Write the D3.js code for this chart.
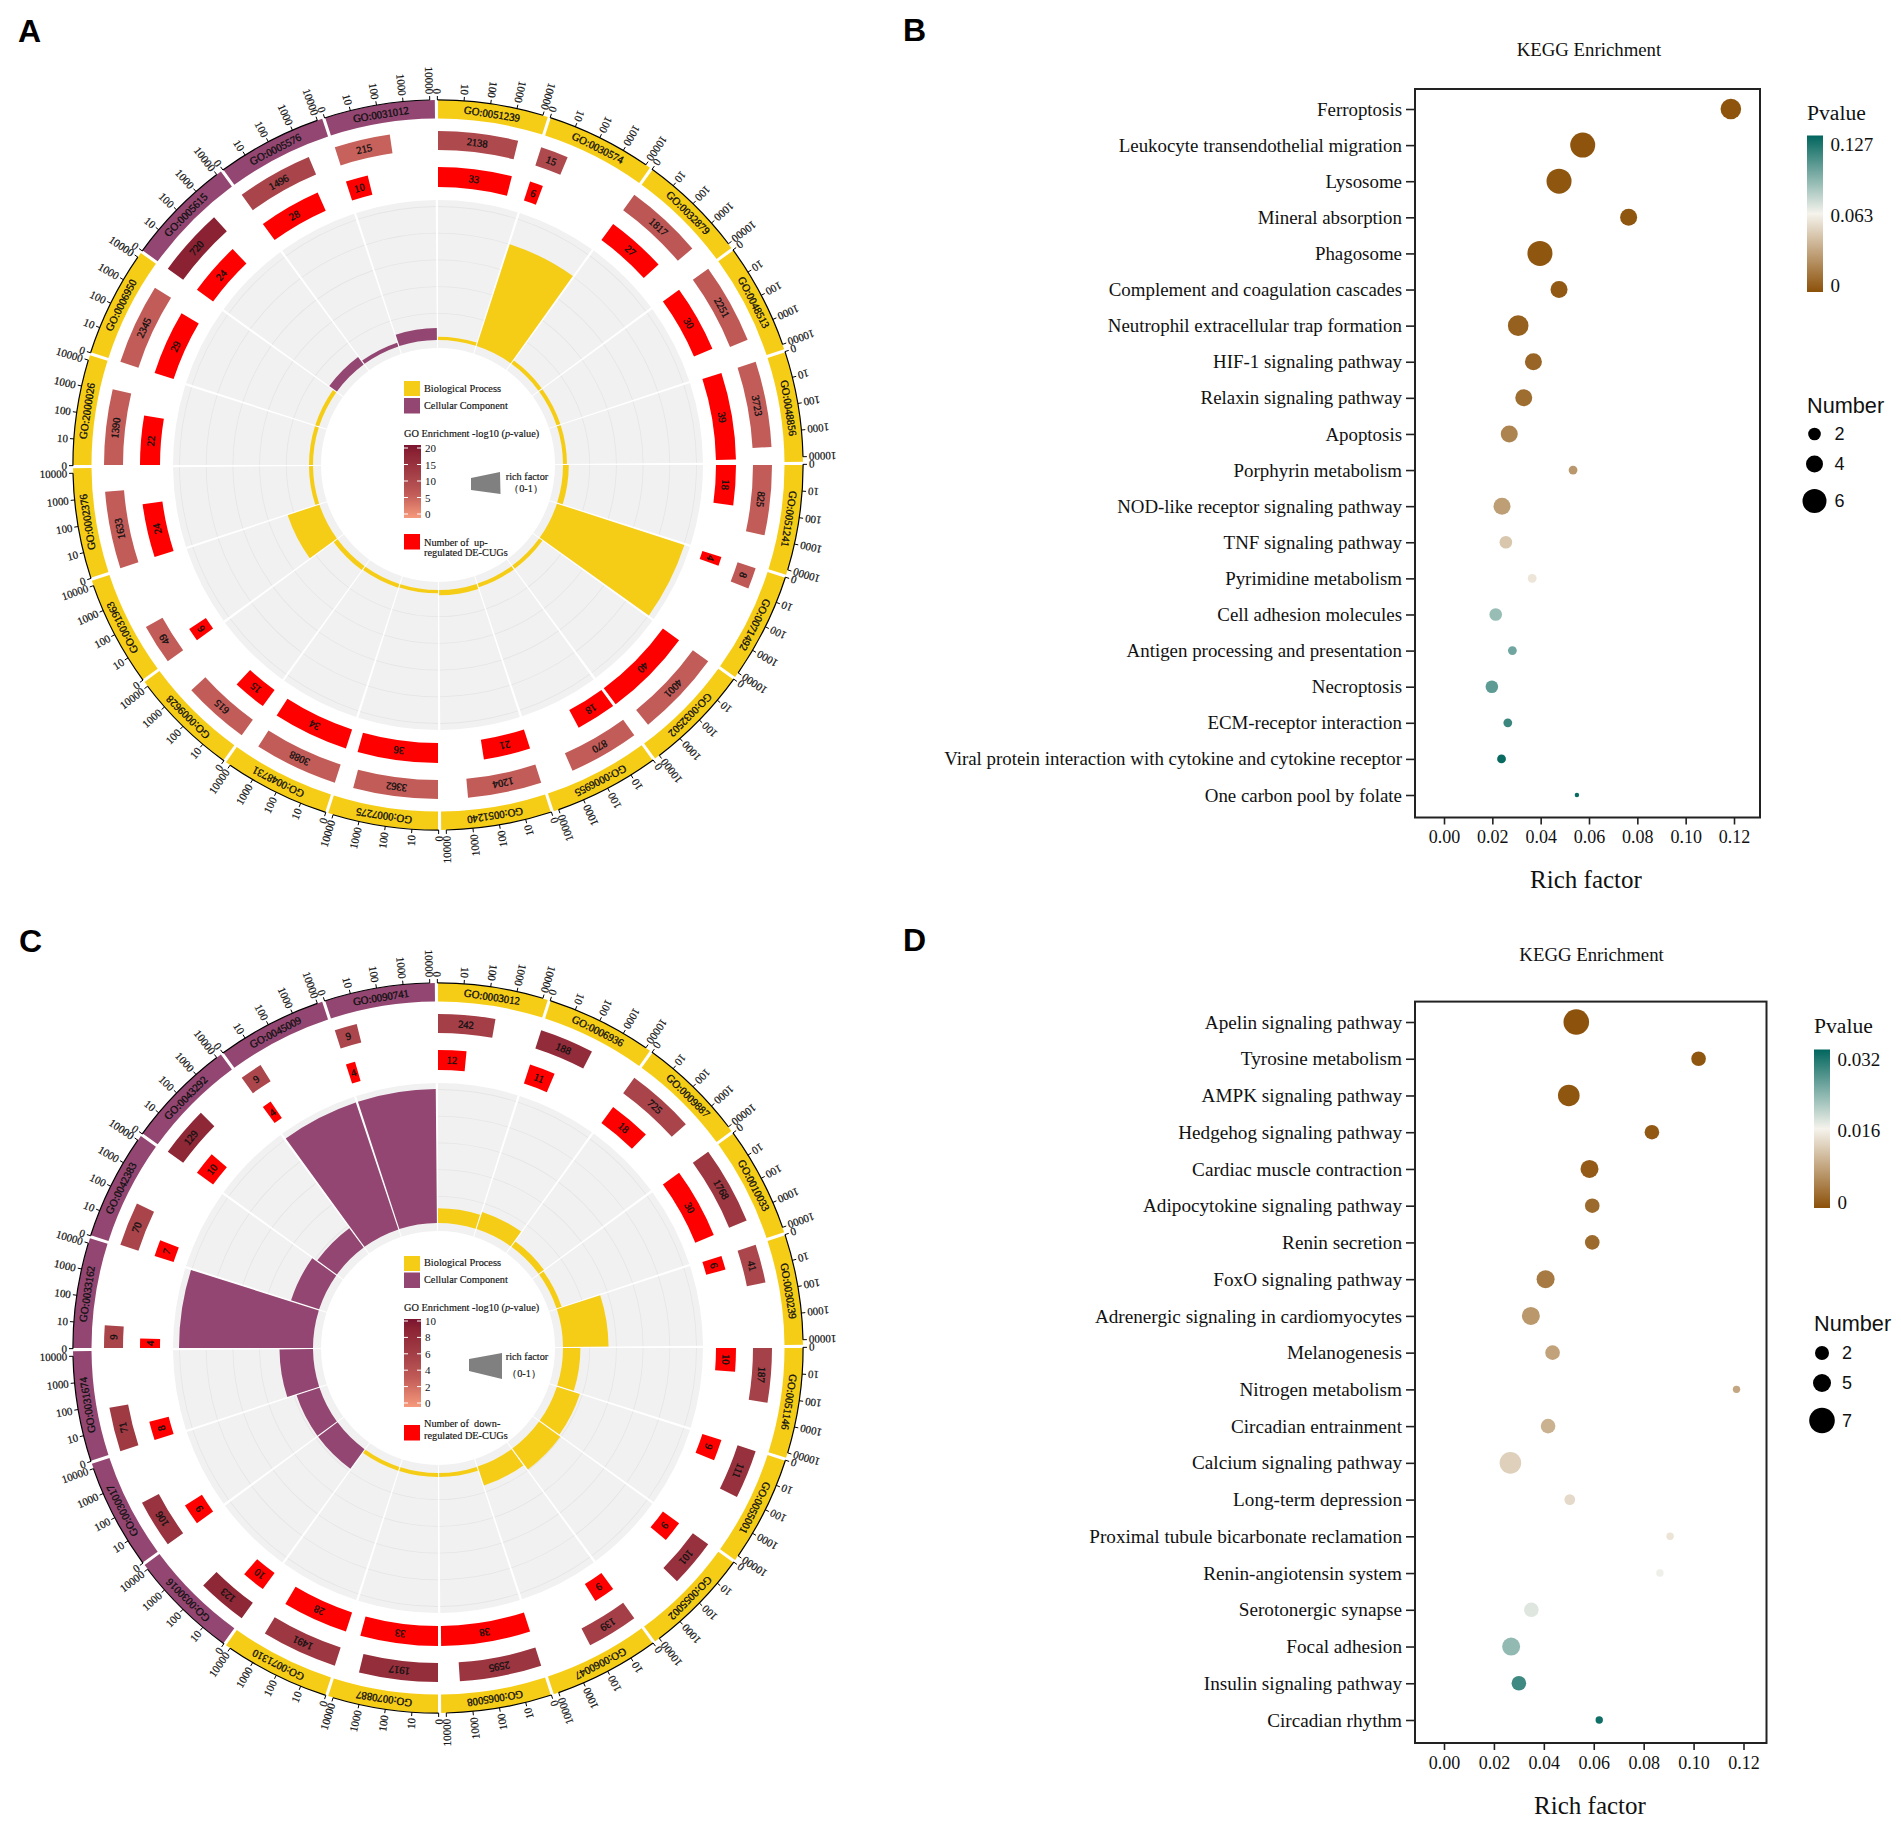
<!DOCTYPE html>
<html><head><meta charset="utf-8">
<script src="https://d3js.org/d3.v7.min.js"></script>
<style>html,body{margin:0;padding:0;background:#fff}svg{display:block}text{font-family:"Liberation Serif","Times New Roman",serif;fill:#111;white-space:pre}</style>
</head><body><div id="c"></div>
<script>
// ---------- Panel A data ----------
const aTerms=["GO:0051239","GO:0030574","GO:0032879","GO:0048513","GO:0048856","GO:0051241","GO:0071492","GO:0032502","GO:0006955","GO:0051240","GO:0007275","GO:0048731","GO:0009628","GO:0031963","GO:0002376","GO:2000026","GO:0006950","GO:0005615","GO:0005576","GO:0031012"];
const aCategory=["BP","BP","BP","BP","BP","BP","BP","BP","BP","BP","BP","BP","BP","BP","BP","BP","BP","CC","CC","CC"];
const aGenes=[2138,15,1817,2251,3723,825,8,4001,870,1204,3362,3088,615,49,1633,1390,2345,720,1496,215];
const aCounts=[33,6,27,30,39,18,4,40,18,21,36,34,15,6,24,22,29,24,28,10];
const aLogP=[10,10,7.5,7,6.5,6.5,7,6.5,6.5,6.5,6.5,6.5,6.5,6.5,6.5,6.5,6.5,18,11,6];
const aRich=[.025,.8,.03,.03,.03,.043,1,.03,.03,.04,.025,.03,.035,.25,.03,.03,.03,.07,.03,.09];
// ---------- Panel C data ----------
const cTerms=["GO:0003012","GO:0006936","GO:0009887","GO:0010033","GO:0030239","GO:0051146","GO:0055001","GO:0055002","GO:0060047","GO:0065008","GO:0070887","GO:0071310","GO:0030016","GO:0030017","GO:0031674","GO:0033162","GO:0042383","GO:0043292","GO:0045009","GO:0090741"];
const cCategory=["BP","BP","BP","BP","BP","BP","BP","BP","BP","BP","BP","BP","CC","CC","CC","CC","CC","CC","CC","CC"];
const cGenes=[242,188,725,1768,41,187,111,101,139,2595,1917,1491,123,106,71,9,70,129,9,9];
const cCounts=[12,11,18,30,6,10,9,9,9,38,33,28,10,9,8,4,7,10,4,4];
const cLogP=[6,8,5.5,6.8,5.2,5.8,7.5,7.5,6,7,7.8,6.8,8.5,7.2,6.5,5.5,5.5,8.5,5.2,5.2];
const cRich=[.11,.135,.05,.04,.34,.13,.18,.195,.15,.03,.03,.03,.18,.18,.25,1,.22,.18,1,1];
const axisTickValues=[1,10,100,1000,10000];
const axisTickLabels=["0","10","100","1000","10000"];
// ---------- Panel B data ----------
const bPathways=["Ferroptosis","Leukocyte transendothelial migration","Lysosome","Mineral absorption","Phagosome","Complement and coagulation cascades","Neutrophil extracellular trap formation","HIF-1 signaling pathway","Relaxin signaling pathway","Apoptosis","Porphyrin metabolism","NOD-like receptor signaling pathway","TNF signaling pathway","Pyrimidine metabolism","Cell adhesion molecules","Antigen processing and presentation","Necroptosis","ECM-receptor interaction","Viral protein interaction with cytokine and cytokine receptor","One carbon pool by folate"];
const bRichFactor=[.1187,.0574,.0476,.0764,.0397,.0476,.0307,.037,.033,.027,.0534,.024,.0256,.0365,.0214,.0283,.0198,.0264,.0238,.055];
const bNumber=[5,6,6,4,6,4,5,4,4,4,1,4,2,1,2,1,2,1,1,.2];
const bPvalue=[.001,.001,.002,.002,.002,.003,.006,.008,.011,.02,.028,.03,.046,.058,.088,.098,.103,.112,.125,.125];
// ---------- Panel D data ----------
const dPathways=["Apelin signaling pathway","Tyrosine metabolism","AMPK signaling pathway","Hedgehog signaling pathway","Cardiac muscle contraction","Adipocytokine signaling pathway","Renin secretion","FoxO signaling pathway","Adrenergic signaling in cardiomyocytes","Melanogenesis","Nitrogen metabolism","Circadian entrainment","Calcium signaling pathway","Long-term depression","Proximal tubule bicarbonate reclamation","Renin-angiotensin system","Serotonergic synapse","Focal adhesion","Insulin signaling pathway","Circadian rhythm"];
const dRichFactor=[.053,.102,.05,.0833,.0583,.0594,.0594,.0407,.0348,.0435,.1172,.0417,.0266,.0504,.0906,.0865,.035,.0269,.03,.0622];
const dNumber=[7,3,6,3,5,3,3,5,5,3,1,3,6,2,1,1,3,5,3,1];
const dPvalue=[.0002,.0005,.0005,.0008,.001,.0025,.0025,.004,.007,.008,.0085,.0095,.0125,.0135,.0145,.0165,.0175,.0225,.028,.031];
const xTicks=[0,.02,.04,.06,.08,.1,.12];

const svg=d3.select("#c").append("svg").attr("width",1901).attr("height",1825);
const defs=svg.append("defs");
const rad=d=>d*Math.PI/180, YEL="#f6cd16", PUR="#934672", SANS='"Liberation Sans",Arial,sans-serif';

function letter(t,x,y){svg.append("text").text(t).attr("x",x).attr("y",y).style("font-family",SANS).style("font-weight","bold").style("font-size","32px").style("fill","#000");}
letter("A",18,42);letter("B",903,41);letter("C",19,952);letter("D",903,951);

const heatStops=[[0,"#f69a7c"],[.325,"#c25c58"],[.55,"#a8444a"],[.9,"#8a2233"],[1,"#7a1430"]];

function circos(cfg){
  const g=svg.append("g").attr("transform",`translate(${cfg.cx},${cfg.cy})`);
  const sector=d3.scaleBand().domain(cfg.terms).range([0,360]);
  const logS=d3.scaleLog().domain([1,10000]).range([-.1,16.7]);
  const countS=d3.scaleLinear().domain([0,d3.max(cfg.counts)]).range([0,17.4]);
  const richS=d3.scaleLinear().domain([0,1]).range([125,259]);
  const heat=d3.scaleLinear().domain(heatStops.map(s=>s[0]*cfg.logMax)).range(heatStops.map(s=>s[1]));
  const SP=17.5, arc=d3.arc();
  const seg=(r0,r1,a0,a1)=>arc({innerRadius:r0,outerRadius:r1,startAngle:rad(a0),endAngle:rad(a1)});
  const pt=(r,a)=>[r*Math.sin(rad(a)),-r*Math.cos(rad(a))];
  const tf=(r,a,rot)=>{const p=pt(r,a);return `translate(${p[0]},${p[1]}) rotate(${rot})`;};
  const label=(t,r,a,size)=>g.append("text").text(t).attr("transform",tf(r,a,a)).attr("text-anchor","middle").attr("dominant-baseline","central").style("font-size",size+"px").style("stroke","#111").style("stroke-width",.35);

  cfg.terms.forEach((term,i)=>{
    const a=sector(term), col=cfg.cat[i]==="BP"?YEL:PUR;
    g.append("path").attr("d",seg(117,265,a,a+SP)).attr("fill","#f1f1f1");
    [1,2,3,4,5].forEach(k=>g.append("path").attr("d",d3.arc()({innerRadius:125+k*26.7-.4,outerRadius:125+k*26.7+.4,startAngle:rad(a),endAngle:rad(a+SP)})).attr("fill","#e5e5e5"));
    g.append("path").attr("d",seg(richS(0),richS(cfg.rich[i]),a,a+SP)).attr("fill",col);
    g.append("path").attr("d",seg(278,298,a,a+countS(cfg.counts[i]))).attr("fill","#ff0000");
    label(cfg.counts[i],288,a+countS(cfg.counts[i])/2,10.5);
    g.append("path").attr("d",seg(315,334,a,a+logS(cfg.genes[i]))).attr("fill",heat(cfg.logP[i]));
    label(cfg.genes[i],324.5,a+logS(cfg.genes[i])/2,10.5);
    g.append("path").attr("d",seg(346.5,365,a,a+SP)).attr("fill",col);
    label(term,355.5,a+SP/2,10.8);
    g.append("path").attr("d",d3.arc()({innerRadius:364.5,outerRadius:365.7,startAngle:rad(a+logS(1)),endAngle:rad(a+logS(10000))})).attr("fill","#000");
    axisTickValues.forEach((v,j)=>{
      const an=a+logS(v),p0=pt(365,an),p1=pt(369,an);
      g.append("line").attr("x1",p0[0]).attr("y1",p0[1]).attr("x2",p1[0]).attr("y2",p1[1]).attr("stroke","#000").attr("stroke-width",1);
      g.append("text").text(axisTickLabels[j]).attr("transform",tf(371,an,an+90)).attr("text-anchor","end").attr("dominant-baseline","central").style("font-size","11px").style("stroke","#111").style("stroke-width",.2);
    });
  });
  const L=cfg.leg, t=(s,x,y,o={})=>svg.append("text").text(s).attr("x",x).attr("y",y).attr("text-anchor",o.anchor||"start").style("font-size",(o.size||10.3)+"px").style("stroke","#111").style("stroke-width",.15);
  svg.append("rect").attr("x",404).attr("y",L.yel).attr("width",16).attr("height",15).attr("fill",YEL);
  svg.append("rect").attr("x",404).attr("y",L.pur).attr("width",16).attr("height",15.5).attr("fill",PUR);
  t("Biological Process",424,L.bp);t("Cellular Component",424,L.cc);
  const h=svg.append("text").attr("x",404).attr("y",L.go).style("font-size","10.3px").style("stroke","#111").style("stroke-width",.15);
  h.append("tspan").text("GO Enrichment -log10 (");h.append("tspan").text("p").style("font-style","italic");h.append("tspan").text("-value)");
  const gid="heat"+cfg.id, lg=defs.append("linearGradient").attr("id",gid).attr("x1",0).attr("y1",1).attr("x2",0).attr("y2",0);
  heatStops.forEach(s=>lg.append("stop").attr("offset",s[0]).attr("stop-color",s[1]));
  svg.append("rect").attr("x",404).attr("y",L.g0).attr("width",17).attr("height",L.g1-L.g0).attr("fill",`url(#${gid})`);
  const lgS=d3.scaleLinear().domain([0,cfg.logMax]).range(L.gRange);
  cfg.legTicks.forEach(v=>{const y=lgS(v);
    svg.append("line").attr("x1",404).attr("x2",408).attr("y1",y).attr("y2",y).attr("stroke","#fff").attr("stroke-width",1);
    svg.append("line").attr("x1",417).attr("x2",421).attr("y1",y).attr("y2",y).attr("stroke","#fff").attr("stroke-width",1);
    svg.append("text").text(v).attr("x",425).attr("y",y).attr("dominant-baseline","central").style("font-size","11px");});
  svg.append("polygon").attr("points",L.shape).attr("fill","#808080");
  t("rich factor",527,L.rf,{anchor:"middle"});t("\uFF080-1\uFF09",L.rng,L.rf2,{anchor:"middle"});
  svg.append("rect").attr("x",404).attr("y",L.red).attr("width",16).attr("height",15.5).attr("fill","#ff0000");
  t(cfg.numLabel,424,L.n1);t("regulated DE-CUGs",424,L.n2);
}
circos({id:"A",cx:438,cy:465,terms:aTerms,cat:aCategory,genes:aGenes,counts:aCounts,logP:aLogP,rich:aRich,logMax:20,legTicks:[0,5,10,15,20],numLabel:"Number of  up-",
 leg:{yel:381,pur:398,bp:392,cc:409,go:437,g0:445,g1:518,gRange:[514,448],shape:"471,478 500,472 500.5,494 471,490",rf:480,rf2:492,rng:526,red:534,n1:546,n2:556}});
circos({id:"C",cx:438,cy:1348,terms:cTerms,cat:cCategory,genes:cGenes,counts:cCounts,logP:cLogP,rich:cRich,logMax:10,legTicks:[0,2,4,6,8,10],numLabel:"Number of  down-",
 leg:{yel:1256,pur:1272.5,bp:1266,cc:1283,go:1311,g0:1319,g1:1407,gRange:[1403,1321],shape:"469,1359 502,1353 502,1379 469,1371",rf:1360,rf2:1377,rng:524,red:1425,n1:1427,n2:1439}});

function dot(cfg){
  const x=d3.scaleLinear().domain([0,.12]).range(cfg.xR);
  const y=d3.scalePoint().domain(cfg.paths).range(cfg.yR);
  const r=d3.scaleLinear().domain(cfg.sizeD).range(cfg.sizeR);
  const mid=cfg.pTicks[1],max=cfg.pTicks[2];
  const col=d3.scaleLinear().domain([0,mid,max]).range(["#8c5109","#f5f3ec","#01665e"]);
  svg.append("g").attr("transform",`translate(${cfg.box[0]},0)`).call(d3.axisLeft(y).tickSize(9).tickPadding(4))
    .call(a=>a.select(".domain").remove()).call(a=>a.selectAll("line").attr("stroke","#222").attr("stroke-width",1.6))
    .call(a=>a.selectAll("text").style("font-family",'"Liberation Serif",serif').style("font-size",cfg.labelSize+"px").style("fill","#111"));
  svg.append("g").attr("transform",`translate(0,${cfg.box[3]})`).call(d3.axisBottom(x).tickValues(xTicks).tickFormat(d3.format(".2f")).tickSize(7).tickPadding(6))
    .call(a=>a.select(".domain").remove()).call(a=>a.selectAll("line").attr("stroke","#222").attr("stroke-width",1.6))
    .call(a=>a.selectAll("text").style("font-family",'"Liberation Serif",serif').style("font-size","18px").style("fill","#111"));
  svg.append("rect").attr("x",cfg.box[0]).attr("y",cfg.box[1]).attr("width",cfg.box[2]-cfg.box[0]).attr("height",cfg.box[3]-cfg.box[1]).attr("fill","none").attr("stroke","#222").attr("stroke-width",2);
  svg.append("g").selectAll("circle").data(cfg.paths).join("circle").attr("cx",(d,i)=>x(cfg.rich[i])).attr("cy",d=>y(d)).attr("r",(d,i)=>r(cfg.num[i])).attr("fill",(d,i)=>col(cfg.p[i]));
  svg.append("text").text("KEGG Enrichment").attr("x",cfg.tx).attr("y",cfg.ty).attr("text-anchor","middle").style("font-size","18.8px");
  svg.append("text").text("Rich factor").attr("x",cfg.rx).attr("y",cfg.ry).attr("text-anchor","middle").style("font-size","25px");
  const L=cfg.leg;
  svg.append("text").text("Pvalue").attr("x",L.x).attr("y",L.py).style("font-size","21.6px");
  const gid="pv"+cfg.id, lg=defs.append("linearGradient").attr("id",gid).attr("x1",0).attr("y1",1).attr("x2",0).attr("y2",0);
  d3.range(0,1.001,.1).forEach(t=>lg.append("stop").attr("offset",t).attr("stop-color",col(t*max)));
  svg.append("rect").attr("x",L.x).attr("y",L.b0).attr("width",16).attr("height",L.b1-L.b0).attr("fill",`url(#${gid})`);
  cfg.pLabels.forEach((s,i)=>svg.append("text").text(s).attr("x",L.x+23.5).attr("y",L.ly[i]).attr("dominant-baseline","central").style("font-size","19px"));
  svg.append("text").text("Number").attr("x",L.x).attr("y",L.ny).style("font-family",SANS).style("font-size","21.7px");
  cfg.legNum.forEach((n,i)=>{
    svg.append("circle").attr("cx",L.cx).attr("cy",L.cy[i]).attr("r",L.cr[i]).attr("fill","#000");
    svg.append("text").text(n).attr("x",L.cx+20).attr("y",L.cy[i]).attr("dominant-baseline","central").style("font-family",SANS).style("font-size","18px");
  });
}
dot({id:"B",labelSize:18.9,paths:bPathways,rich:bRichFactor,num:bNumber,p:bPvalue,xR:[1444,1734],yR:[109,795],box:[1415,89,1760,817.5],
 sizeD:[.2,1,2,4,5,6],sizeR:[2.2,4.4,6.3,8.5,10.3,12.5],pTicks:[0,.0635,.127],pLabels:["0.127","0.063","0"],tx:1589,ty:56,rx:1586,ry:888,legNum:[2,4,6],
 leg:{x:1807,py:119.5,b0:135.5,b1:292,ly:[144.6,215,285],ny:413,cx:1814.5,cy:[434,464,501],cr:[6.3,8.5,12]}});
dot({id:"D",labelSize:19.2,paths:dPathways,rich:dRichFactor,num:dNumber,p:dPvalue,xR:[1444,1743.5],yR:[1022,1720],box:[1415,1001.6,1766.5,1743],
 sizeD:[1,2,3,5,6,7],sizeR:[3.7,5.4,7.3,9,10.8,12.8],pTicks:[0,.016,.032],pLabels:["0.032","0.016","0"],tx:1591.6,ty:961,rx:1590,ry:1814,legNum:[2,5,7],
 leg:{x:1814,py:1032.5,b0:1049.5,b1:1208,ly:[1059,1130,1202],ny:1331,cx:1822,cy:[1353,1383,1420.5],cr:[7,9,12.8]}});
</script></body></html>
